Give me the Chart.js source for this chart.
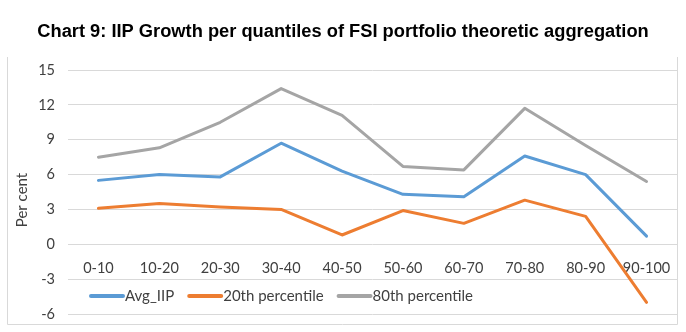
<!DOCTYPE html>
<html>
<head>
<meta charset="utf-8">
<title>Chart 9</title>
<script src="https://cdn.jsdelivr.net/npm/chart.js@4/dist/chart.umd.min.js"></script>
<style>
    html, body { margin: 0; padding: 0; background: #ffffff; }
    #wrap { width: 686px; height: 332px; position: relative; }
</style>
</head>
<body>
<div id="wrap"><canvas id="iipChart" width="686" height="332"></canvas></div>
<script>
// quantiles of the FSI portfolio
let quantiles = ['0-10', '10-20', '20-30', '30-40', '40-50', '50-60', '60-70', '70-80', '80-90', '90-100'];

// IIP growth, per cent
let avgIIP = [5.5, 6.0, 5.8, 8.7, 6.3, 4.3, 4.1, 7.6, 6.0, 0.7];
let pct20 = [3.1, 3.5, 3.2, 3.0, 0.8, 2.9, 1.8, 3.8, 2.4, -5.0];
let pct80 = [7.5, 8.3, 10.5, 13.4, 11.1, 6.7, 6.4, 11.7, 8.5, 5.4];

let yMin = -6;
let yMax = 15;
let yStep = 3;

let chartTitle = 'Chart 9: IIP Growth per quantiles of FSI portfolio theoretic aggregation';
let yTitle = 'Per cent';

let labelColor = '#404040';

// title, frame, axis title and the legend that sits inside the plot
let decorations = {
    id: 'decorations',
    afterDraw: function (chart) {
        let ctx = chart.ctx;
        ctx.save();

        ctx.strokeStyle = '#d9d9d9';
        ctx.lineWidth = 1;
        ctx.beginPath();
        ctx.moveTo(7.5, 57);
        ctx.lineTo(7.5, 324.5);
        ctx.lineTo(677.5, 324.5);
        ctx.lineTo(677.5, 57);
        ctx.stroke();

        ctx.fillStyle = '#000000';
        ctx.font = 'bold 18.3px "Liberation Sans"';
        ctx.textAlign = 'center';
        ctx.textBaseline = 'alphabetic';
        ctx.fillText(chartTitle, 343, 37);

        ctx.save();
        ctx.translate(22, 200);
        ctx.rotate(-Math.PI / 2);
        ctx.font = '15px Lato';
        ctx.fillStyle = labelColor;
        ctx.textAlign = 'center';
        ctx.textBaseline = 'middle';
        ctx.fillText(yTitle, 0, 0);
        ctx.restore();

        let x = 91;
        let y = 296;
        ctx.font = '15px Lato';
        ctx.textAlign = 'left';
        ctx.textBaseline = 'middle';
        chart.data.datasets.forEach(function (ds) {
            ctx.strokeStyle = ds.borderColor;
            ctx.lineWidth = 4;
            ctx.lineCap = 'round';
            ctx.beginPath();
            ctx.moveTo(x, y);
            ctx.lineTo(x + 32, y);
            ctx.stroke();
            ctx.fillStyle = labelColor;
            ctx.fillText(ds.label, x + 34, y);
            x = x + 34 + ctx.measureText(ds.label).width + 15;
        });

        ctx.restore();
    }
};

let iipCtx = document.getElementById('iipChart').getContext('2d');

let iipChart = new Chart(iipCtx, {
    type: 'line',
    data: {
        labels: quantiles,
        datasets: [{
            label: 'Avg_IIP',
            data: avgIIP,
            borderColor: '#5b9bd5',
            backgroundColor: '#5b9bd5'
        }, {
            label: '20th percentile',
            data: pct20,
            borderColor: '#ed7d31',
            backgroundColor: '#ed7d31'
        }, {
            label: '80th percentile',
            data: pct80,
            borderColor: '#a5a5a5',
            backgroundColor: '#a5a5a5'
        }]
    },
    options: {
        responsive: false,
        animation: false,
        devicePixelRatio: 1,
        layout: {
            padding: { top: 70, bottom: 18, left: 0, right: 9 }
        },
        elements: {
            line: { borderWidth: 3, tension: 0, borderCapStyle: 'round', borderJoinStyle: 'round' },
            point: { radius: 0 }
        },
        plugins: {
            legend: { display: false },
            title: { display: false },
            tooltip: { enabled: false }
        },
        scales: {
            x: {
                position: { y: 0 },
                offset: true,
                grid: { display: false, drawTicks: false },
                border: { display: false },
                ticks: {
                    padding: 15,
                    color: labelColor,
                    font: { family: 'Lato', size: 14.5 },
                    maxRotation: 0,
                    autoSkip: false
                },
                // labels sit on the zero line, so the axis takes no room at the bottom
                afterFit: function (scale) {
                    scale.height = 0;
                }
            },
            y: {
                min: yMin,
                max: yMax,
                // invisible tick marks push the labels away from the plot
                grid: { color: '#d9d9d9', drawTicks: true, tickLength: 13, tickColor: 'rgba(0,0,0,0)' },
                border: { display: false },
                ticks: {
                    stepSize: yStep,
                    padding: 0,
                    color: labelColor,
                    font: { family: 'Lato', size: 14.5 }
                },
                afterFit: function (scale) {
                    scale.width = 68;
                }
            }
        }
    },
    plugins: [decorations]
});
</script>
</body>
</html>
